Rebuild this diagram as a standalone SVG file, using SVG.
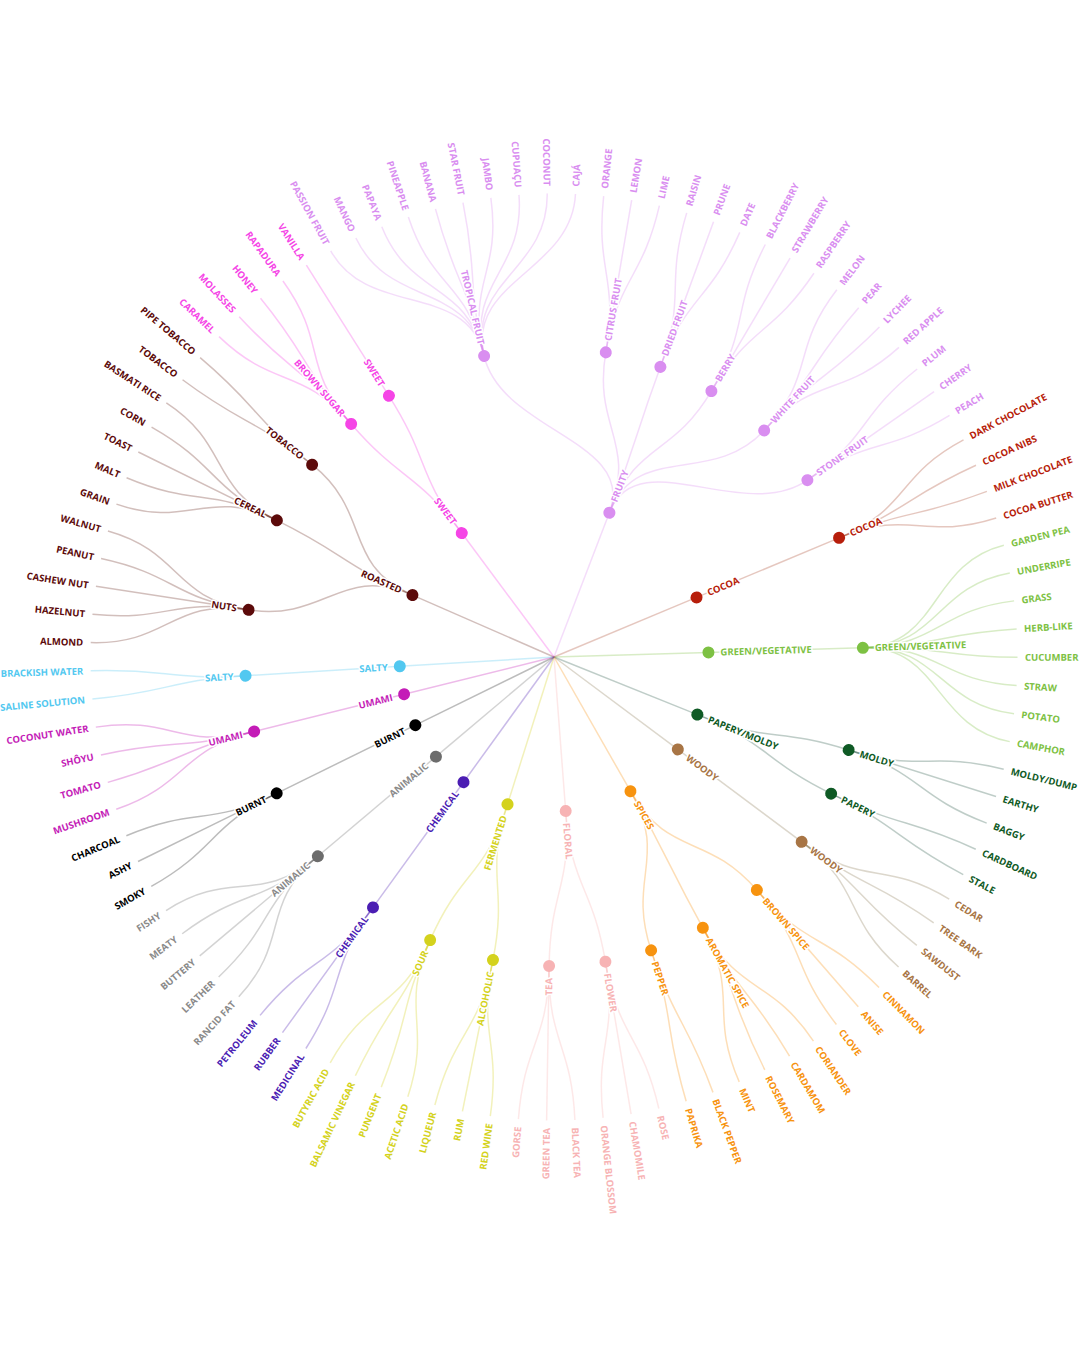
<svg xmlns="http://www.w3.org/2000/svg" width="1080" height="1350" viewBox="0 0 1080 1350">
<style>
text{font-family:"Open Sans","Liberation Sans",sans-serif;font-size:9.5px;font-weight:700;paint-order:stroke;stroke:#fff;stroke-width:3px;stroke-linejoin:round;dominant-baseline:central}
.s{text-anchor:start}
.e{text-anchor:end}
#links{fill:none;stroke-width:1.5;stroke-opacity:.3}
.kfr{stroke:#d98ef0}.ksw{stroke:#f545e6}.kro{stroke:#6a2a20}.kco{stroke:#a8442a}.kgr{stroke:#7dc143}.kpm{stroke:#2a5a48}.kwo{stroke:#8a7a55}.ksp{stroke:#f7930f}.kfl{stroke:#f7b3b4}.kfe{stroke:#d4d21d}.kch{stroke:#4b1db3}.kan{stroke:#6c6c6c}.kbu{stroke:#222}.kum{stroke:#c41cb7}.ksa{stroke:#52c8f0}
.fr{fill:#d98ef0}.sw{fill:#f545e6}.ro{fill:#5c0a0a}.co{fill:#b71e0b}.gr{fill:#7dc143}.pm{fill:#0f5a25}.wo{fill:#a87545}.sp{fill:#f7930f}.fl{fill:#f7b3b4}.fe{fill:#d4d21d}.ch{fill:#4b1db3}.an{fill:#6c6c6c}.an text{fill:#8a8a8a}.bu{fill:#000}.um{fill:#c41cb7}.sa{fill:#52c8f0}
</style>
<defs>
<path id="r" d="M0,0H154.5"/>
<path id="m0" d="M154.5,0H309"/>
<path id="map" d="M154.5,0C231.75,0 231.72,3.54 308.96,4.71"/>
<path id="mam" d="M154.5,0C231.75,0 231.72,-3.54 308.96,-4.71"/>
<path id="mbp" d="M154.5,0C231.75,0 231.51,10.6 308.68,14.13"/>
<path id="mcp" d="M154.5,0C231.75,0 231.08,17.65 308.1,23.54"/>
<path id="mcm" d="M154.5,0C231.75,0 231.08,-17.65 308.1,-23.54"/>
<path id="mdp" d="M154.5,0C231.75,0 230.78,21.18 307.71,28.23"/>
<path id="mdm" d="M154.5,0C231.75,0 230.78,-21.18 307.71,-28.23"/>
<path id="mep" d="M154.5,0C231.75,0 230.43,24.69 307.24,32.92"/>
<path id="mem" d="M154.5,0C231.75,0 230.43,-24.69 307.24,-32.92"/>
<path id="mfp" d="M154.5,0C231.75,0 228.5,38.7 304.66,51.59"/>
<path id="mgp" d="M154.5,0C231.75,0 227.21,45.65 302.95,60.86"/>
<path id="mgm" d="M154.5,0C231.75,0 227.21,-45.65 302.95,-60.86"/>
<path id="mhp" d="M154.5,0C231.75,0 224,59.41 298.67,79.22"/>
<path id="mhm" d="M154.5,0C231.75,0 224,-59.41 298.67,-79.22"/>
<path id="mip" d="M154.5,0C231.75,0 215.11,86.23 286.81,114.98"/>
<path id="mjp" d="M154.5,0C231.75,0 191.95,129.85 255.94,173.14"/>
<path id="mjm" d="M154.5,0C231.75,0 191.95,-129.85 255.94,-173.14"/>
<path id="l0" d="M309,0H463.5"/>
<path id="lp1" d="M309,0C386.25,0 386.07,11.78 463.28,14.13"/>
<path id="lm1" d="M309,0C386.25,0 386.07,-11.78 463.28,-14.13"/>
<path id="lp2" d="M309,0C386.25,0 385.53,23.55 462.64,28.26"/>
<path id="lm2" d="M309,0C386.25,0 385.53,-23.55 462.64,-28.26"/>
<path id="lp3" d="M309,0C386.25,0 384.63,35.29 461.56,42.35"/>
<path id="lm3" d="M309,0C386.25,0 384.63,-35.29 461.56,-42.35"/>
<path id="lp4" d="M309,0C386.25,0 383.38,47.01 460.05,56.41"/>
<path id="lm4" d="M309,0C386.25,0 383.38,-47.01 460.05,-56.41"/>
<path id="lp5" d="M309,0C386.25,0 381.77,58.68 458.12,70.41"/>
<path id="lm5" d="M309,0C386.25,0 381.77,-58.68 458.12,-70.41"/>
<path id="lp7" d="M309,0C386.25,0 377.48,81.84 452.98,98.21"/>
<path id="lm7" d="M309,0C386.25,0 377.48,-81.84 452.98,-98.21"/>
<path id="lp9" d="M309,0C386.25,0 371.79,104.7 446.15,125.64"/>
<path id="lm9" d="M309,0C386.25,0 371.79,-104.7 446.15,-125.64"/>
</defs>
<rect width="1080" height="1350" fill="#fff"/>
<g transform="translate(554,657)">
<g id="links">
<g class="kfr">
<g transform="rotate(-68.994)"><use href="#r"/><use href="#mjm"/><use href="#mgm"/><use href="#mam"/><use href="#mfp"/><use href="#mip"/><use href="#mjp"/></g>
<g transform="rotate(-103.072)"><use href="#lm9"/><use href="#lm7"/><use href="#lm5"/><use href="#lm3"/><use href="#lm1"/><use href="#lp1"/><use href="#lp3"/><use href="#lp5"/><use href="#lp7"/><use href="#lp9"/></g>
<g transform="rotate(-80.353)"><use href="#lm2"/><use href="#l0"/><use href="#lp2"/></g>
<g transform="rotate(-69.868)"><use href="#lm2"/><use href="#l0"/><use href="#lp2"/></g>
<g transform="rotate(-59.382)"><use href="#lm2"/><use href="#l0"/><use href="#lp2"/></g>
<g transform="rotate(-47.149)"><use href="#lm3"/><use href="#lm1"/><use href="#lp1"/><use href="#lp3"/></g>
<g transform="rotate(-34.916)"><use href="#lm2"/><use href="#l0"/><use href="#lp2"/></g>
</g>
<g class="kco" transform="rotate(-22.683)"><use href="#r"/><use href="#m0"/><use href="#lm3"/><use href="#lm1"/><use href="#lp1"/><use href="#lp3"/></g>
<g class="kgr" transform="rotate(-1.712)"><use href="#r"/><use href="#m0"/><use href="#lm7"/><use href="#lm5"/><use href="#lm3"/><use href="#lm1"/><use href="#lp1"/><use href="#lp3"/><use href="#lp5"/><use href="#lp7"/></g>
<g class="kpm">
<g transform="rotate(21.88)"><use href="#r"/><use href="#mcm"/><use href="#mcp"/></g>
<g transform="rotate(17.511)"><use href="#lm2"/><use href="#l0"/><use href="#lp2"/></g>
<g transform="rotate(26.249)"><use href="#lm1"/><use href="#lp1"/></g>
</g>
<g class="kwo" transform="rotate(36.735)"><use href="#r"/><use href="#m0"/><use href="#lm3"/><use href="#lm1"/><use href="#lp1"/><use href="#lp3"/></g>
<g class="ksp">
<g transform="rotate(60.327)"><use href="#r"/><use href="#mgm"/><use href="#map"/><use href="#mgp"/></g>
<g transform="rotate(48.968)"><use href="#lm2"/><use href="#l0"/><use href="#lp2"/></g>
<g transform="rotate(61.201)"><use href="#lm3"/><use href="#lm1"/><use href="#lp1"/><use href="#lp3"/></g>
<g transform="rotate(71.686)"><use href="#lm1"/><use href="#lp1"/></g>
</g>
<g class="kfl">
<g transform="rotate(85.667)"><use href="#r"/><use href="#mdm"/><use href="#mdp"/></g>
<g transform="rotate(80.424)"><use href="#lm2"/><use href="#l0"/><use href="#lp2"/></g>
<g transform="rotate(90.91)"><use href="#lm2"/><use href="#l0"/><use href="#lp2"/></g>
</g>
<g class="kfe">
<g transform="rotate(107.512)"><use href="#r"/><use href="#mem"/><use href="#mep"/></g>
<g transform="rotate(101.395)"><use href="#lm2"/><use href="#l0"/><use href="#lp2"/></g>
<g transform="rotate(113.628)"><use href="#lm3"/><use href="#lm1"/><use href="#lp1"/><use href="#lp3"/></g>
</g>
<g class="kch" transform="rotate(125.861)"><use href="#r"/><use href="#m0"/><use href="#lm2"/><use href="#l0"/><use href="#lp2"/></g>
<g class="kan" transform="rotate(139.842)"><use href="#r"/><use href="#m0"/><use href="#lm4"/><use href="#lm2"/><use href="#l0"/><use href="#lp2"/><use href="#lp4"/></g>
<g class="kbu" transform="rotate(153.823)"><use href="#r"/><use href="#m0"/><use href="#lm2"/><use href="#l0"/><use href="#lp2"/></g>
<g class="kum" transform="rotate(166.056)"><use href="#r"/><use href="#m0"/><use href="#lm3"/><use href="#lm1"/><use href="#lp1"/><use href="#lp3"/></g>
<g class="ksa" transform="rotate(176.541)"><use href="#r"/><use href="#m0"/><use href="#lm1"/><use href="#lp1"/></g>
<g class="kro">
<g transform="rotate(203.629)"><use href="#r"/><use href="#mhm"/><use href="#mbp"/><use href="#mhp"/></g>
<g transform="rotate(188.774)"><use href="#lm4"/><use href="#lm2"/><use href="#l0"/><use href="#lp2"/><use href="#lp4"/></g>
<g transform="rotate(206.25)"><use href="#lm4"/><use href="#lm2"/><use href="#l0"/><use href="#lp2"/><use href="#lp4"/></g>
<g transform="rotate(218.483)"><use href="#lm1"/><use href="#lp1"/></g>
</g>
<g class="ksw">
<g transform="rotate(233.338)"><use href="#r"/><use href="#mcm"/><use href="#mcp"/></g>
<g transform="rotate(228.969)"><use href="#lm3"/><use href="#lm1"/><use href="#lp1"/><use href="#lp3"/></g>
<g transform="rotate(237.707)"><use href="#l0"/></g>
</g>
</g>

<!-- level 1 nodes -->
<g id="n1-fruity" class="fr"><circle transform="rotate(-68.994)" cx="154.5" r="6"/><text class="s" transform="rotate(-68.994)" x="166.5">FRUITY</text></g>
<g id="n1-cocoa" class="co"><circle transform="rotate(-22.683)" cx="154.5" r="6"/><text class="s" transform="rotate(-22.683)" x="166.5">COCOA</text></g>
<g id="n1-green-vegetative" class="gr"><circle transform="rotate(-1.712)" cx="154.5" r="6"/><text class="s" transform="rotate(-1.712)" x="166.5">GREEN/VEGETATIVE</text></g>
<g id="n1-papery-moldy" class="pm"><circle transform="rotate(21.88)" cx="154.5" r="6"/><text class="s" transform="rotate(21.88)" x="166.5">PAPERY/MOLDY</text></g>
<g id="n1-woody" class="wo"><circle transform="rotate(36.735)" cx="154.5" r="6"/><text class="s" transform="rotate(36.735)" x="166.5">WOODY</text></g>
<g id="n1-spices" class="sp"><circle transform="rotate(60.327)" cx="154.5" r="6"/><text class="s" transform="rotate(60.327)" x="166.5">SPICES</text></g>
<g id="n1-floral" class="fl"><circle transform="rotate(85.667)" cx="154.5" r="6"/><text class="s" transform="rotate(85.667)" x="166.5">FLORAL</text></g>
<g id="n1-fermented" class="fe"><circle transform="rotate(107.512)" cx="154.5" r="6"/><text class="e" transform="rotate(-72.488)" x="-166.5">FERMENTED</text></g>
<g id="n1-chemical" class="ch"><circle transform="rotate(125.861)" cx="154.5" r="6"/><text class="e" transform="rotate(-54.139)" x="-166.5">CHEMICAL</text></g>
<g id="n1-animalic" class="an"><circle transform="rotate(139.842)" cx="154.5" r="6"/><text class="e" transform="rotate(-40.158)" x="-166.5">ANIMALIC</text></g>
<g id="n1-burnt" class="bu"><circle transform="rotate(153.823)" cx="154.5" r="6"/><text class="e" transform="rotate(-26.177)" x="-166.5">BURNT</text></g>
<g id="n1-umami" class="um"><circle transform="rotate(166.056)" cx="154.5" r="6"/><text class="e" transform="rotate(-13.944)" x="-166.5">UMAMI</text></g>
<g id="n1-salty" class="sa"><circle transform="rotate(176.541)" cx="154.5" r="6"/><text class="e" transform="rotate(-3.459)" x="-166.5">SALTY</text></g>
<g id="n1-roasted" class="ro"><circle transform="rotate(203.629)" cx="154.5" r="6"/><text class="e" transform="rotate(23.629)" x="-166.5">ROASTED</text></g>
<g id="n1-sweet" class="sw"><circle transform="rotate(233.338)" cx="154.5" r="6"/><text class="e" transform="rotate(53.338)" x="-166.5">SWEET</text></g>

<!-- level 2 nodes -->
<g id="n2-tropical-fruit" class="fr"><circle transform="rotate(-103.072)" cx="309" r="6"/><text class="e" transform="rotate(76.928)" x="-321">TROPICAL FRUIT</text></g>
<g id="n2-citrus-fruit" class="fr"><circle transform="rotate(-80.353)" cx="309" r="6"/><text class="s" transform="rotate(-80.353)" x="321">CITRUS FRUIT</text></g>
<g id="n2-dried-fruit" class="fr"><circle transform="rotate(-69.868)" cx="309" r="6"/><text class="s" transform="rotate(-69.868)" x="321">DRIED FRUIT</text></g>
<g id="n2-berry" class="fr"><circle transform="rotate(-59.382)" cx="309" r="6"/><text class="s" transform="rotate(-59.382)" x="321">BERRY</text></g>
<g id="n2-white-fruit" class="fr"><circle transform="rotate(-47.149)" cx="309" r="6"/><text class="s" transform="rotate(-47.149)" x="321">WHITE FRUIT</text></g>
<g id="n2-stone-fruit" class="fr"><circle transform="rotate(-34.916)" cx="309" r="6"/><text class="s" transform="rotate(-34.916)" x="321">STONE FRUIT</text></g>
<g id="n2-cocoa" class="co"><circle transform="rotate(-22.683)" cx="309" r="6"/><text class="s" transform="rotate(-22.683)" x="321">COCOA</text></g>
<g id="n2-green-vegetative" class="gr"><circle transform="rotate(-1.712)" cx="309" r="6"/><text class="s" transform="rotate(-1.712)" x="321">GREEN/VEGETATIVE</text></g>
<g id="n2-moldy" class="pm"><circle transform="rotate(17.511)" cx="309" r="6"/><text class="s" transform="rotate(17.511)" x="321">MOLDY</text></g>
<g id="n2-papery" class="pm"><circle transform="rotate(26.249)" cx="309" r="6"/><text class="s" transform="rotate(26.249)" x="321">PAPERY</text></g>
<g id="n2-woody" class="wo"><circle transform="rotate(36.735)" cx="309" r="6"/><text class="s" transform="rotate(36.735)" x="321">WOODY</text></g>
<g id="n2-brown-spice" class="sp"><circle transform="rotate(48.968)" cx="309" r="6"/><text class="s" transform="rotate(48.968)" x="321">BROWN SPICE</text></g>
<g id="n2-aromatic-spice" class="sp"><circle transform="rotate(61.201)" cx="309" r="6"/><text class="s" transform="rotate(61.201)" x="321">AROMATIC SPICE</text></g>
<g id="n2-pepper" class="sp"><circle transform="rotate(71.686)" cx="309" r="6"/><text class="s" transform="rotate(71.686)" x="321">PEPPER</text></g>
<g id="n2-flower" class="fl"><circle transform="rotate(80.424)" cx="309" r="6"/><text class="s" transform="rotate(80.424)" x="321">FLOWER</text></g>
<g id="n2-tea" class="fl"><circle transform="rotate(90.91)" cx="309" r="6"/><text class="e" transform="rotate(-89.09)" x="-321">TEA</text></g>
<g id="n2-alcoholic" class="fe"><circle transform="rotate(101.395)" cx="309" r="6"/><text class="e" transform="rotate(-78.605)" x="-321">ALCOHOLIC</text></g>
<g id="n2-sour" class="fe"><circle transform="rotate(113.628)" cx="309" r="6"/><text class="e" transform="rotate(-66.372)" x="-321">SOUR</text></g>
<g id="n2-chemical" class="ch"><circle transform="rotate(125.861)" cx="309" r="6"/><text class="e" transform="rotate(-54.139)" x="-321">CHEMICAL</text></g>
<g id="n2-animalic" class="an"><circle transform="rotate(139.842)" cx="309" r="6"/><text class="e" transform="rotate(-40.158)" x="-321">ANIMALIC</text></g>
<g id="n2-burnt" class="bu"><circle transform="rotate(153.823)" cx="309" r="6"/><text class="e" transform="rotate(-26.177)" x="-321">BURNT</text></g>
<g id="n2-umami" class="um"><circle transform="rotate(166.056)" cx="309" r="6"/><text class="e" transform="rotate(-13.944)" x="-321">UMAMI</text></g>
<g id="n2-salty" class="sa"><circle transform="rotate(176.541)" cx="309" r="6"/><text class="e" transform="rotate(-3.459)" x="-321">SALTY</text></g>
<g id="n2-nuts" class="ro"><circle transform="rotate(188.774)" cx="309" r="6"/><text class="e" transform="rotate(8.774)" x="-321">NUTS</text></g>
<g id="n2-cereal" class="ro"><circle transform="rotate(206.25)" cx="309" r="6"/><text class="e" transform="rotate(26.25)" x="-321">CEREAL</text></g>
<g id="n2-tobacco" class="ro"><circle transform="rotate(218.483)" cx="309" r="6"/><text class="e" transform="rotate(38.483)" x="-321">TOBACCO</text></g>
<g id="n2-brown-sugar" class="sw"><circle transform="rotate(228.969)" cx="309" r="6"/><text class="e" transform="rotate(48.969)" x="-321">BROWN SUGAR</text></g>
<g id="n2-sweet" class="sw"><circle transform="rotate(237.707)" cx="309" r="6"/><text class="e" transform="rotate(57.707)" x="-321">SWEET</text></g>

<!-- leaves -->
<g id="leaf-passion-fruit" class="fr"><text class="e" transform="rotate(61.2)" x="-471">PASSION FRUIT</text></g>
<g id="leaf-mango" class="fr"><text class="e" transform="rotate(64.695)" x="-471">MANGO</text></g>
<g id="leaf-papaya" class="fr"><text class="e" transform="rotate(68.19)" x="-471">PAPAYA</text></g>
<g id="leaf-pineapple" class="fr"><text class="e" transform="rotate(71.685)" x="-471">PINEAPPLE</text></g>
<g id="leaf-banana" class="fr"><text class="e" transform="rotate(75.181)" x="-471">BANANA</text></g>
<g id="leaf-star-fruit" class="fr"><text class="e" transform="rotate(78.676)" x="-471">STAR FRUIT</text></g>
<g id="leaf-jambo" class="fr"><text class="e" transform="rotate(82.171)" x="-471">JAMBO</text></g>
<g id="leaf-cupuacu" class="fr"><text class="e" transform="rotate(85.666)" x="-471">CUPUAÇU</text></g>
<g id="leaf-coconut" class="fr"><text class="e" transform="rotate(89.161)" x="-471">COCONUT</text></g>
<g id="leaf-caja" class="fr"><text class="s" transform="rotate(-87.344)" x="471">CAJÁ</text></g>
<g id="leaf-orange" class="fr"><text class="s" transform="rotate(-83.848)" x="471">ORANGE</text></g>
<g id="leaf-lemon" class="fr"><text class="s" transform="rotate(-80.353)" x="471">LEMON</text></g>
<g id="leaf-lime" class="fr"><text class="s" transform="rotate(-76.858)" x="471">LIME</text></g>
<g id="leaf-raisin" class="fr"><text class="s" transform="rotate(-73.363)" x="471">RAISIN</text></g>
<g id="leaf-prune" class="fr"><text class="s" transform="rotate(-69.868)" x="471">PRUNE</text></g>
<g id="leaf-date" class="fr"><text class="s" transform="rotate(-66.373)" x="471">DATE</text></g>
<g id="leaf-blackberry" class="fr"><text class="s" transform="rotate(-62.878)" x="471">BLACKBERRY</text></g>
<g id="leaf-strawberry" class="fr"><text class="s" transform="rotate(-59.382)" x="471">STRAWBERRY</text></g>
<g id="leaf-raspberry" class="fr"><text class="s" transform="rotate(-55.887)" x="471">RASPBERRY</text></g>
<g id="leaf-melon" class="fr"><text class="s" transform="rotate(-52.392)" x="471">MELON</text></g>
<g id="leaf-pear" class="fr"><text class="s" transform="rotate(-48.897)" x="471">PEAR</text></g>
<g id="leaf-lychee" class="fr"><text class="s" transform="rotate(-45.402)" x="471">LYCHEE</text></g>
<g id="leaf-red-apple" class="fr"><text class="s" transform="rotate(-41.907)" x="471">RED APPLE</text></g>
<g id="leaf-plum" class="fr"><text class="s" transform="rotate(-38.411)" x="471">PLUM</text></g>
<g id="leaf-cherry" class="fr"><text class="s" transform="rotate(-34.916)" x="471">CHERRY</text></g>
<g id="leaf-peach" class="fr"><text class="s" transform="rotate(-31.421)" x="471">PEACH</text></g>
<g id="leaf-dark-chocolate" class="co"><text class="s" transform="rotate(-27.926)" x="471">DARK CHOCOLATE</text></g>
<g id="leaf-cocoa-nibs" class="co"><text class="s" transform="rotate(-24.431)" x="471">COCOA NIBS</text></g>
<g id="leaf-milk-chocolate" class="co"><text class="s" transform="rotate(-20.936)" x="471">MILK CHOCOLATE</text></g>
<g id="leaf-cocoa-butter" class="co"><text class="s" transform="rotate(-17.441)" x="471">COCOA BUTTER</text></g>
<g id="leaf-garden-pea" class="gr"><text class="s" transform="rotate(-13.945)" x="471">GARDEN PEA</text></g>
<g id="leaf-underripe" class="gr"><text class="s" transform="rotate(-10.45)" x="471">UNDERRIPE</text></g>
<g id="leaf-grass" class="gr"><text class="s" transform="rotate(-6.955)" x="471">GRASS</text></g>
<g id="leaf-herb-like" class="gr"><text class="s" transform="rotate(-3.46)" x="471">HERB-LIKE</text></g>
<g id="leaf-cucumber" class="gr"><text class="s" transform="rotate(0.035)" x="471">CUCUMBER</text></g>
<g id="leaf-straw" class="gr"><text class="s" transform="rotate(3.53)" x="471">STRAW</text></g>
<g id="leaf-potato" class="gr"><text class="s" transform="rotate(7.026)" x="471">POTATO</text></g>
<g id="leaf-camphor" class="gr"><text class="s" transform="rotate(10.521)" x="471">CAMPHOR</text></g>
<g id="leaf-moldy-dump" class="pm"><text class="s" transform="rotate(14.016)" x="471">MOLDY/DUMP</text></g>
<g id="leaf-earthy" class="pm"><text class="s" transform="rotate(17.511)" x="471">EARTHY</text></g>
<g id="leaf-baggy" class="pm"><text class="s" transform="rotate(21.006)" x="471">BAGGY</text></g>
<g id="leaf-cardboard" class="pm"><text class="s" transform="rotate(24.501)" x="471">CARDBOARD</text></g>
<g id="leaf-stale" class="pm"><text class="s" transform="rotate(27.997)" x="471">STALE</text></g>
<g id="leaf-cedar" class="wo"><text class="s" transform="rotate(31.492)" x="471">CEDAR</text></g>
<g id="leaf-tree-bark" class="wo"><text class="s" transform="rotate(34.987)" x="471">TREE BARK</text></g>
<g id="leaf-sawdust" class="wo"><text class="s" transform="rotate(38.482)" x="471">SAWDUST</text></g>
<g id="leaf-barrel" class="wo"><text class="s" transform="rotate(41.977)" x="471">BARREL</text></g>
<g id="leaf-cinnamon" class="sp"><text class="s" transform="rotate(45.472)" x="471">CINNAMON</text></g>
<g id="leaf-anise" class="sp"><text class="s" transform="rotate(48.968)" x="471">ANISE</text></g>
<g id="leaf-clove" class="sp"><text class="s" transform="rotate(52.463)" x="471">CLOVE</text></g>
<g id="leaf-coriander" class="sp"><text class="s" transform="rotate(55.958)" x="471">CORIANDER</text></g>
<g id="leaf-cardamom" class="sp"><text class="s" transform="rotate(59.453)" x="471">CARDAMOM</text></g>
<g id="leaf-rosemary" class="sp"><text class="s" transform="rotate(62.948)" x="471">ROSEMARY</text></g>
<g id="leaf-mint" class="sp"><text class="s" transform="rotate(66.443)" x="471">MINT</text></g>
<g id="leaf-black-pepper" class="sp"><text class="s" transform="rotate(69.939)" x="471">BLACK PEPPER</text></g>
<g id="leaf-paprika" class="sp"><text class="s" transform="rotate(73.434)" x="471">PAPRIKA</text></g>
<g id="leaf-rose" class="fl"><text class="s" transform="rotate(76.929)" x="471">ROSE</text></g>
<g id="leaf-chamomile" class="fl"><text class="s" transform="rotate(80.424)" x="471">CHAMOMILE</text></g>
<g id="leaf-orange-blossom" class="fl"><text class="s" transform="rotate(83.919)" x="471">ORANGE BLOSSOM</text></g>
<g id="leaf-black-tea" class="fl"><text class="s" transform="rotate(87.414)" x="471">BLACK TEA</text></g>
<g id="leaf-green-tea" class="fl"><text class="e" transform="rotate(-89.09)" x="-471">GREEN TEA</text></g>
<g id="leaf-gorse" class="fl"><text class="e" transform="rotate(-85.595)" x="-471">GORSE</text></g>
<g id="leaf-red-wine" class="fe"><text class="e" transform="rotate(-82.1)" x="-471">RED WINE</text></g>
<g id="leaf-rum" class="fe"><text class="e" transform="rotate(-78.605)" x="-471">RUM</text></g>
<g id="leaf-liqueur" class="fe"><text class="e" transform="rotate(-75.11)" x="-471">LIQUEUR</text></g>
<g id="leaf-acetic-acid" class="fe"><text class="e" transform="rotate(-71.615)" x="-471">ACETIC ACID</text></g>
<g id="leaf-pungent" class="fe"><text class="e" transform="rotate(-68.119)" x="-471">PUNGENT</text></g>
<g id="leaf-balsamic-vinegar" class="fe"><text class="e" transform="rotate(-64.624)" x="-471">BALSAMIC VINEGAR</text></g>
<g id="leaf-butyric-acid" class="fe"><text class="e" transform="rotate(-61.129)" x="-471">BUTYRIC ACID</text></g>
<g id="leaf-medicinal" class="ch"><text class="e" transform="rotate(-57.634)" x="-471">MEDICINAL</text></g>
<g id="leaf-rubber" class="ch"><text class="e" transform="rotate(-54.139)" x="-471">RUBBER</text></g>
<g id="leaf-petroleum" class="ch"><text class="e" transform="rotate(-50.644)" x="-471">PETROLEUM</text></g>
<g id="leaf-rancid-fat" class="an"><text class="e" transform="rotate(-47.148)" x="-471">RANCID FAT</text></g>
<g id="leaf-leather" class="an"><text class="e" transform="rotate(-43.653)" x="-471">LEATHER</text></g>
<g id="leaf-buttery" class="an"><text class="e" transform="rotate(-40.158)" x="-471">BUTTERY</text></g>
<g id="leaf-meaty" class="an"><text class="e" transform="rotate(-36.663)" x="-471">MEATY</text></g>
<g id="leaf-fishy" class="an"><text class="e" transform="rotate(-33.168)" x="-471">FISHY</text></g>
<g id="leaf-smoky" class="bu"><text class="e" transform="rotate(-29.673)" x="-471">SMOKY</text></g>
<g id="leaf-ashy" class="bu"><text class="e" transform="rotate(-26.177)" x="-471">ASHY</text></g>
<g id="leaf-charcoal" class="bu"><text class="e" transform="rotate(-22.682)" x="-471">CHARCOAL</text></g>
<g id="leaf-mushroom" class="um"><text class="e" transform="rotate(-19.187)" x="-471">MUSHROOM</text></g>
<g id="leaf-tomato" class="um"><text class="e" transform="rotate(-15.692)" x="-471">TOMATO</text></g>
<g id="leaf-shoyu" class="um"><text class="e" transform="rotate(-12.197)" x="-471">SHÔYU</text></g>
<g id="leaf-coconut-water" class="um"><text class="e" transform="rotate(-8.702)" x="-471">COCONUT WATER</text></g>
<g id="leaf-saline-solution" class="sa"><text class="e" transform="rotate(-5.206)" x="-471">SALINE SOLUTION</text></g>
<g id="leaf-brackish-water" class="sa"><text class="e" transform="rotate(-1.711)" x="-471">BRACKISH WATER</text></g>
<g id="leaf-almond" class="ro"><text class="e" transform="rotate(1.784)" x="-471">ALMOND</text></g>
<g id="leaf-hazelnut" class="ro"><text class="e" transform="rotate(5.279)" x="-471">HAZELNUT</text></g>
<g id="leaf-cashew-nut" class="ro"><text class="e" transform="rotate(8.774)" x="-471">CASHEW NUT</text></g>
<g id="leaf-peanut" class="ro"><text class="e" transform="rotate(12.269)" x="-471">PEANUT</text></g>
<g id="leaf-walnut" class="ro"><text class="e" transform="rotate(15.765)" x="-471">WALNUT</text></g>
<g id="leaf-grain" class="ro"><text class="e" transform="rotate(19.26)" x="-471">GRAIN</text></g>
<g id="leaf-malt" class="ro"><text class="e" transform="rotate(22.755)" x="-471">MALT</text></g>
<g id="leaf-toast" class="ro"><text class="e" transform="rotate(26.25)" x="-471">TOAST</text></g>
<g id="leaf-corn" class="ro"><text class="e" transform="rotate(29.745)" x="-471">CORN</text></g>
<g id="leaf-basmati-rice" class="ro"><text class="e" transform="rotate(33.24)" x="-471">BASMATI RICE</text></g>
<g id="leaf-tobacco" class="ro"><text class="e" transform="rotate(36.736)" x="-471">TOBACCO</text></g>
<g id="leaf-pipe-tobacco" class="ro"><text class="e" transform="rotate(40.231)" x="-471">PIPE TOBACCO</text></g>
<g id="leaf-caramel" class="sw"><text class="e" transform="rotate(43.726)" x="-471">CARAMEL</text></g>
<g id="leaf-molasses" class="sw"><text class="e" transform="rotate(47.221)" x="-471">MOLASSES</text></g>
<g id="leaf-honey" class="sw"><text class="e" transform="rotate(50.716)" x="-471">HONEY</text></g>
<g id="leaf-rapadura" class="sw"><text class="e" transform="rotate(54.211)" x="-471">RAPADURA</text></g>
<g id="leaf-vanilla" class="sw"><text class="e" transform="rotate(57.707)" x="-471">VANILLA</text></g>
</g>
</svg>
